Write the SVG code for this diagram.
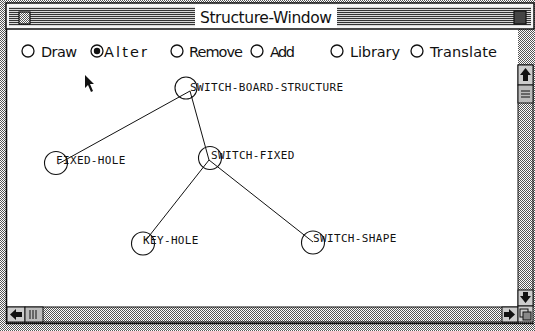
<svg xmlns="http://www.w3.org/2000/svg" width="535" height="331" viewBox="0 0 535 331">
<defs>
<pattern id="dith" width="2" height="2" patternUnits="userSpaceOnUse">
<rect width="2" height="2" fill="#ffffff"/>
<rect width="1" height="1" fill="#555"/>
<rect x="1" y="1" width="1" height="1" fill="#555"/>
</pattern>
<pattern id="stripe" width="4" height="2" patternUnits="userSpaceOnUse">
<rect width="4" height="2" fill="#d8d8d8"/>
<rect width="4" height="1" fill="#333"/>
</pattern>
<style>
.lbl{font-family:"DejaVu Sans Mono","Liberation Mono",monospace;font-size:11px;fill:#111;letter-spacing:0.35px}
.rad{font-family:"DejaVu Sans","Liberation Sans",sans-serif;font-size:14.5px;fill:#111}
.nc{fill:none;stroke:#111;stroke-width:1.1}
.edge{stroke:#111;stroke-width:1;fill:none}
.rb{fill:#fff;stroke:#111;stroke-width:1.3}
</style>
</defs>
<!-- window frame background -->
<rect x="0" y="0" width="535" height="331" fill="url(#dith)"/>
<rect x="6" y="29" width="512" height="278" fill="#fff"/>
<!-- title bar -->
<g id="titlebar">
<rect x="6" y="3" width="528" height="26" fill="#f4f4f4" stroke="#111" stroke-width="1.5"/>
<rect x="9" y="7" width="522" height="19" fill="url(#stripe)"/>
<rect x="195" y="5" width="142" height="23" fill="#fff"/>
<rect x="19" y="12" width="11" height="12" fill="url(#dith)" stroke="#111" stroke-width="1.2"/>
<rect x="514" y="11" width="12" height="13" fill="#444" stroke="#111" stroke-width="1.2"/>
<text x="266" y="23" text-anchor="middle" font-family="DejaVu Sans, Liberation Sans, sans-serif" font-size="15.5" textLength="132" fill="#111">Structure-Window</text>
</g>
<line x1="6.5" y1="29" x2="6.5" y2="324" stroke="#111" stroke-width="1.5"/>
<!-- radio buttons -->
<g id="radios">
<circle class="rb" cx="28" cy="51" r="6"/><text class="rad" x="41" y="57" textLength="36">Draw</text>
<circle class="rb" cx="97" cy="51" r="6"/><circle cx="97" cy="51" r="3.2" fill="#111"/><text class="rad" x="104" y="57" textLength="43">Alter</text>
<circle class="rb" cx="177" cy="51" r="6"/><text class="rad" x="189" y="57" textLength="54">Remove</text>
<circle class="rb" cx="257" cy="51" r="6"/><text class="rad" x="270" y="57" textLength="25">Add</text>
<circle class="rb" cx="337" cy="51" r="6"/><text class="rad" x="350" y="57" textLength="50">Library</text>
<circle class="rb" cx="417" cy="51" r="6"/><text class="rad" x="430" y="57" textLength="67">Translate</text>
</g>
<!-- cursor -->
<polygon points="85,75 85,88 88,85 91,92 93,91 90,84 94,84" fill="#111"/>
<!-- connectors -->
<g id="connectors" class="edge">
<line x1="190" y1="91" x2="58" y2="164"/>
<line x1="190" y1="91" x2="209" y2="160"/>
<line x1="209" y1="160" x2="146" y2="240"/>
<line x1="209" y1="160" x2="313" y2="242"/>
</g>
<!-- nodes -->
<g id="switch-board-structure">
<circle class="nc" cx="186" cy="88" r="11"/>
<text class="lbl" x="190" y="91">SWITCH-BOARD-STRUCTURE</text>
</g>
<g id="fixed-hole">
<circle class="nc" cx="56" cy="163" r="11.5"/>
<text class="lbl" x="56" y="164">FIXED-HOLE</text>
</g>
<g id="switch-fixed">
<circle class="nc" cx="210" cy="158" r="11.5"/>
<text class="lbl" x="211" y="159">SWITCH-FIXED</text>
</g>
<g id="key-hole">
<circle class="nc" cx="143" cy="243.5" r="11.5"/>
<text class="lbl" x="143" y="244">KEY-HOLE</text>
</g>
<g id="switch-shape">
<circle class="nc" cx="313" cy="242.5" r="11.5"/>
<text class="lbl" x="313" y="242">SWITCH-SHAPE</text>
</g>
<!-- vertical scrollbar -->
<g id="vscroll">
<rect x="518" y="65" width="15" height="241" fill="url(#dith)" stroke="#111" stroke-width="1"/>
<rect x="518" y="65" width="15" height="20" fill="#ccc" stroke="#111" stroke-width="1"/>
<polygon points="525.5,68 531,75 528,75 528,81 523,81 523,75 520,75" fill="#111"/>
<rect x="518" y="85" width="15" height="18" fill="#bbb" stroke="#111" stroke-width="1"/>
<line x1="521" y1="91" x2="530" y2="91" stroke="#111"/><line x1="521" y1="94" x2="530" y2="94" stroke="#111"/><line x1="521" y1="97" x2="530" y2="97" stroke="#111"/>
<rect x="518" y="290" width="15" height="16" fill="#ccc" stroke="#111" stroke-width="1"/>
<polygon points="525.5,303 531,296 528,296 528,292 523,292 523,296 520,296" fill="#111"/>
</g>
<!-- horizontal scrollbar -->
<g id="hscroll">
<rect x="7" y="307" width="511" height="15" fill="url(#dith)" stroke="#111" stroke-width="1"/>
<rect x="7" y="307" width="18" height="15" fill="#ccc" stroke="#111" stroke-width="1"/>
<polygon points="10,314.5 16,309 16,312 22,312 22,317 16,317 16,320" fill="#111"/>
<rect x="25" y="307" width="18" height="15" fill="#bbb" stroke="#111" stroke-width="1"/>
<line x1="30" y1="310" x2="30" y2="319" stroke="#111"/><line x1="33" y1="310" x2="33" y2="319" stroke="#111"/><line x1="36" y1="310" x2="36" y2="319" stroke="#111"/>
<rect x="502" y="307" width="16" height="15" fill="#ccc" stroke="#111" stroke-width="1"/>
<polygon points="515,314.5 509,309 509,312 504,312 504,317 509,317 509,320" fill="#111"/>
<rect x="518" y="306" width="15" height="16" fill="#ccc" stroke="#111" stroke-width="1"/>
<rect x="520" y="309" width="8" height="8" fill="none" stroke="#111"/>
<rect x="523" y="312" width="8" height="8" fill="#888" stroke="#111"/>
</g>
<line x1="6" y1="323.5" x2="534" y2="323.5" stroke="#111" stroke-width="1.5"/>
</svg>
